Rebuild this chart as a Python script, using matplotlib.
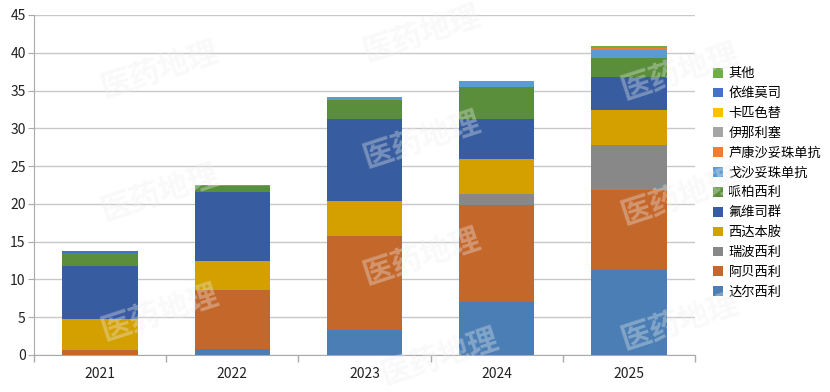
import numpy as np
import matplotlib
matplotlib.use('Agg')
import matplotlib.pyplot as plt

plt.rcParams['font.family'] = ['Noto Sans CJK SC', 'DejaVu Sans']

# === Data ===
years = ['2021', '2022', '2023', '2024', '2025']
drugs = ['达尔西利', '阿贝西利', '瑞波西利', '西达本胺', '氟维司群', '哌柏西利',
         '戈沙妥珠单抗', '芦康沙妥珠单抗', '伊那利塞', '卡匹色替', '依维莫司', '其他']
dalxili   = [0.0, 0.8, 3.3, 7.0, 11.3]
abxili    = [0.6, 7.8, 12.4, 12.8, 10.6]
ruibxili  = [0.0, 0.0, 0.0, 1.45, 5.85]
xidabenan = [4.1, 3.8, 4.7, 4.75, 4.65]
fuweisiqun = [7.05, 9.15, 10.8, 5.2, 4.35]
paibxili  = [1.8, 0.8, 2.6, 4.3, 2.55]
gesha     = [0.0, 0.12, 0.3, 0.8, 1.1]
lukang    = [0.0, 0.0, 0.0, 0.0, 0.26]
yinalisai = [0.0, 0.0, 0.0, 0.0, 0.0]
kapise    = [0.0, 0.0, 0.0, 0.0, 0.0]
yiweimosi = [0.25, 0.0, 0.0, 0.0, 0.0]
qita      = [0.0, 0.0, 0.0, 0.0, 0.25]
series = [dalxili, abxili, ruibxili, xidabenan, fuweisiqun, paibxili,
          gesha, lukang, yinalisai, kapise, yiweimosi, qita]
colors = ['#4A7EB4', '#C4672B', '#888888', '#D4A000', '#375DA0', '#5A8E3A',
          '#5B9BD5', '#ED7D31', '#A5A5A5', '#FFC000', '#4472C4', '#70AD47']

# === Plot ===
fig = plt.figure(figsize=(8.3, 3.92), dpi=100)
ax = fig.add_axes([34 / 830, 37 / 392, 661 / 830, 340 / 392])

x = np.arange(len(years))
bottom = np.zeros(len(years))
for name, vals, c in zip(drugs, series, colors):
    ax.bar(x, vals, width=0.57, bottom=bottom, color=c, label=name, zorder=3)
    bottom += np.array(vals)

ax.set_xlim(-0.5, len(years) - 0.5)
ax.set_ylim(0, 45)
ax.set_yticks(np.arange(0, 46, 5))
ax.set_xticks(x)
ax.set_xticklabels(years)
ax.set_xticks(np.arange(-0.5, len(years), 1), minor=True)
ax.tick_params(axis='x', which='major', length=0, labelsize=10, colors='#222222', pad=9)
ax.tick_params(axis='x', which='minor', length=5, color='#AAAAAA', width=1)
ax.tick_params(axis='y', length=4, color='#AAAAAA', labelsize=10, colors='#222222', pad=2)
ax.yaxis.grid(True, color='#C8C8C8', linewidth=1, zorder=0)
for side in ['top', 'right']:
    ax.spines[side].set_visible(False)
ax.spines['left'].set_color('#AAAAAA')
ax.spines['bottom'].set_color('#AAAAAA')

# legend, top entry = last series
handles, labels = ax.get_legend_handles_labels()
fig.legend(handles[::-1], labels[::-1], loc='upper left', bbox_to_anchor=(708 / 830, 1 - 62 / 392),
           frameon=False, fontsize=9.5, handlelength=0.75, handleheight=0.75,
           handletextpad=0.4, labelspacing=0.52, borderaxespad=0)

# faint watermark
for wx, wy in [(160, 70), (160, 193), (160, 313), (422, 34), (422, 140), (422, 257),
               (440, 357), (680, 72), (680, 197), (680, 322)]:
    fig.text(wx / 830, 1 - wy / 392, '医药地理', fontsize=22, fontweight='bold',
             color='#EEEEEE', alpha=0.35, rotation=18, ha='center', va='center', zorder=10)

plt.savefig('out.png', dpi=100)
